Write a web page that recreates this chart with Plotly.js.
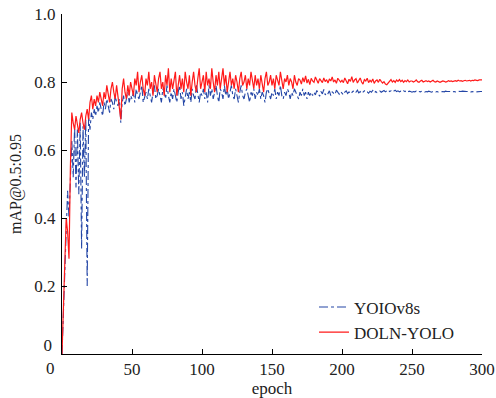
<!DOCTYPE html>
<html><head><meta charset="utf-8">
<script src="https://cdn.plot.ly/plotly-3.0.1.min.js"></script>
<style>html,body{margin:0;padding:0;background:#fff}#chart{width:496px;height:398px}</style>
</head><body><div id="chart"></div>
<script>
const seriesNames = ['YOIOv8s', 'DOLN-YOLO'];
const yolov8s = [
0.00,0.12,0.30,0.42,0.48,0.40,0.50,0.63,0.52,0.67,
0.49,0.66,0.47,0.68,0.31,0.67,0.52,0.69,0.20,0.70,
0.66,0.71,0.69,0.72,0.70,0.73,0.71,0.74,0.72,0.70,
0.74,0.72,0.75,0.73,0.71,0.75,0.74,0.72,0.76,0.74,
0.73,0.75,0.68,0.74,0.76,0.73,0.75,0.77,0.74,0.76,
0.75,0.77,0.74,0.78,0.76,0.75,0.77,0.79,0.74,0.76,
0.77,0.75,0.78,0.76,0.74,0.77,0.79,0.75,0.76,0.78,
0.76,0.74,0.78,0.77,0.75,0.79,0.76,0.74,0.77,0.75,
0.78,0.76,0.74,0.77,0.79,0.75,0.77,0.73,0.76,0.78,
0.75,0.77,0.74,0.78,0.76,0.75,0.79,0.76,0.74,0.77,
0.76,0.78,0.75,0.77,0.74,0.79,0.76,0.78,0.75,0.77,
0.79,0.76,0.74,0.78,0.77,0.75,0.79,0.76,0.78,0.75,
0.77,0.79,0.76,0.75,0.78,0.76,0.74,0.77,0.79,0.76,
0.75,0.77,0.78,0.76,0.74,0.77,0.76,0.78,0.75,0.77,
0.76,0.78,0.75,0.77,0.76,0.74,0.77,0.78,0.76,0.75,
0.77,0.76,0.78,0.75,0.77,0.76,0.79,0.76,0.75,0.77,
0.76,0.78,0.77,0.75,0.77,0.76,0.78,0.77,0.76,0.75,
0.77,0.76,0.78,0.76,0.77,0.75,0.77,0.76,0.77,0.76,
0.770,0.762,0.775,0.768,0.758,0.772,0.765,0.778,0.762,0.770,
0.766,0.774,0.760,0.771,0.767,0.763,0.776,0.768,0.764,0.772,
0.768,0.762,0.770,0.774,0.766,0.771,0.765,0.769,0.773,0.767,
0.770,0.776,0.768,0.772,0.766,0.770,0.774,0.769,0.771,0.767,
0.773,0.770,0.775,0.768,0.772,0.769,0.771,0.774,0.770,0.772,
0.775,0.771,0.773,0.777,0.772,0.774,0.770,0.773,0.776,0.772,
0.774,0.771,0.773,0.770,0.774,0.772,0.775,0.771,0.773,0.772,
0.770,0.772,0.771,0.773,0.770,0.772,0.771,0.773,0.772,0.770,
0.772,0.771,0.773,0.772,0.770,0.772,0.773,0.771,0.772,0.770,
0.771,0.773,0.772,0.771,0.773,0.772,0.771,0.772,0.773,0.771,
0.772,0.771,0.773,0.772,0.771,0.772,0.773,0.772,0.771,0.772,
0.772,0.773,0.771,0.772,0.773,0.772,0.771,0.772,0.773,0.772,0.772
];
const dolnYolo = [
0.00,0.12,0.25,0.40,0.36,0.28,0.55,0.71,0.68,0.66,
0.70,0.67,0.65,0.69,0.71,0.68,0.66,0.70,0.72,0.69,
0.74,0.76,0.72,0.75,0.73,0.76,0.74,0.77,0.75,0.73,
0.77,0.75,0.79,0.76,0.74,0.78,0.80,0.77,0.75,0.79,
0.76,0.73,0.69,0.78,0.81,0.77,0.75,0.79,0.76,0.80,
0.78,0.76,0.81,0.79,0.83,0.77,0.80,0.82,0.78,0.76,
0.81,0.79,0.83,0.78,0.80,0.76,0.82,0.79,0.77,0.81,
0.83,0.78,0.80,0.76,0.82,0.79,0.84,0.77,0.81,0.78,
0.80,0.83,0.76,0.79,0.82,0.78,0.81,0.77,0.83,0.80,
0.78,0.82,0.76,0.80,0.83,0.79,0.77,0.81,0.84,0.78,
0.80,0.82,0.77,0.83,0.79,0.81,0.78,0.84,0.80,0.77,
0.82,0.79,0.83,0.78,0.81,0.84,0.79,0.82,0.77,0.80,
0.83,0.79,0.81,0.78,0.82,0.80,0.77,0.81,0.83,0.79,
0.80,0.82,0.78,0.81,0.79,0.83,0.80,0.78,0.82,0.79,
0.81,0.78,0.82,0.80,0.77,0.81,0.83,0.79,0.80,0.82,
0.79,0.81,0.78,0.82,0.80,0.79,0.83,0.80,0.78,0.81,
0.80,0.82,0.79,0.81,0.80,0.78,0.82,0.80,0.79,0.81,
0.806,0.794,0.813,0.800,0.818,0.797,0.808,0.792,0.811,0.803,
0.799,0.815,0.802,0.796,0.810,0.805,0.798,0.812,0.801,0.807,
0.797,0.809,0.803,0.815,0.800,0.806,0.796,0.811,0.804,0.800,
0.805,0.798,0.812,0.801,0.795,0.808,0.802,0.816,0.799,0.806,
0.810,0.797,0.804,0.812,0.800,0.794,0.807,0.803,0.811,0.798,
0.805,0.800,0.809,0.796,0.803,0.806,0.799,0.808,0.802,0.797,
0.801,0.794,0.792,0.798,0.803,0.807,0.800,0.804,0.799,0.806,
0.802,0.807,0.801,0.805,0.799,0.804,0.801,0.806,0.800,0.803,
0.803,0.800,0.802,0.806,0.801,0.799,0.803,0.805,0.800,0.802,
0.804,0.801,0.803,0.800,0.802,0.805,0.801,0.800,0.803,0.802,
0.799,0.801,0.803,0.802,0.800,0.801,0.804,0.802,0.803,0.801,
0.803,0.804,0.802,0.805,0.803,0.804,0.802,0.804,0.805,0.803,
0.804,0.805,0.803,0.805,0.804,0.806,0.805,0.804,0.806,0.805,0.806
];
const epochs = yolov8s.map((_, i) => i);
const xTickVals = [0, 50, 100, 150, 200, 250, 300];
const xTickText = ['', '50', '100', '150', '200', '250', '300'];
const yTickVals = [0, 0.2, 0.4, 0.6, 0.8, 1.0];
const yTickText = ['', '0.2', '0.4', '0.6', '0.8', '1.0'];
const yZeroLabelVals = [0.026];
const yZeroLabelText = ['0'];

const font = '"Liberation Serif", "Times New Roman", Times, serif';
const txt = {family: font, size: 17, color: '#222'};
const traces = [
  {x: epochs, y: yolov8s, name: seriesNames[0], type: 'scatter', mode: 'lines',
   line: {color: '#2446a6', width: 1.1, dash: 'dashdot'}},
  {x: epochs, y: dolnYolo, name: seriesNames[1], type: 'scatter', mode: 'lines',
   line: {color: '#ff1a1a', width: 1.2}},
  {x: epochs.slice(0, 1), y: yolov8s.slice(0, 1), yaxis: 'y2', type: 'scatter', mode: 'lines',
   showlegend: false, hoverinfo: 'skip', line: {width: 0, color: 'rgba(0,0,0,0)'}}
];
const layout = {
  width: 496, height: 398,
  margin: {l: 62, r: 14, t: 14, b: 44},
  paper_bgcolor: '#fff', plot_bgcolor: '#fff',
  font: txt,
  showlegend: true,
  legend: {x: 0.6, y: 0.19, xanchor: 'left', yanchor: 'top', bgcolor: 'rgba(0,0,0,0)',
           font: txt, tracegroupgap: 0, itemwidth: 30},
  xaxis: {range: [0, 300], tickvals: xTickVals, ticktext: xTickText, ticks: 'inside', ticklen: 5,
          tickcolor: '#000', showline: true, linecolor: '#000', linewidth: 1, showgrid: false,
          zeroline: false, mirror: false, tickfont: txt,
          title: {text: 'epoch', font: txt, standoff: 6}},
  yaxis: {range: [0, 1], tickvals: yTickVals, ticktext: yTickText, ticks: 'inside', ticklen: 5,
          tickcolor: '#000', showline: true, linecolor: '#000', linewidth: 1, showgrid: false,
          zeroline: false, mirror: false, tickfont: txt, ticklabelstandoff: 2,
          title: {text: 'mAP@0.5:0.95', font: {family: font, size: 16, color: '#222'}, standoff: 8}},
  yaxis2: {overlaying: 'y', side: 'left', range: [0, 1], tickvals: yZeroLabelVals, ticktext: yZeroLabelText,
           ticks: '', showline: false, showgrid: false, zeroline: false, tickfont: txt,
           ticklabelstandoff: 9},
  annotations: [
    {xref: 'paper', yref: 'paper', x: 0, y: 0, xanchor: 'right', yanchor: 'top',
     xshift: -6, yshift: -4, text: '0', showarrow: false, font: txt, borderpad: 0}
  ]
};
Plotly.newPlot('chart', traces, layout, {displayModeBar: false, staticPlot: true});
</script></body></html>
